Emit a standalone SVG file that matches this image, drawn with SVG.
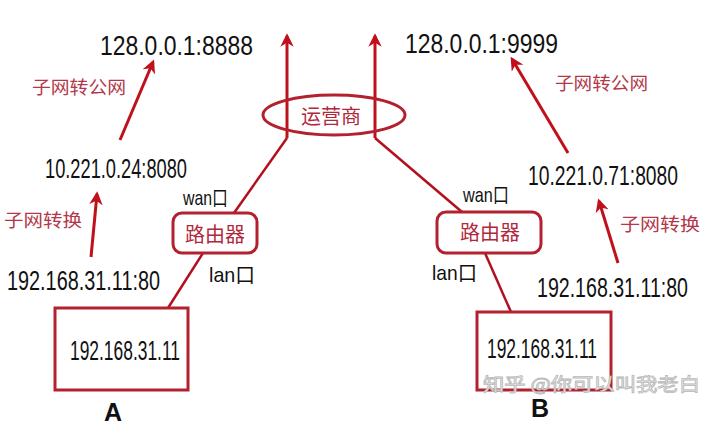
<svg xmlns="http://www.w3.org/2000/svg" width="720" height="421" viewBox="0 0 720 421">
<defs>
<style>
.num{font-family:"Liberation Sans",Arial,sans-serif;font-size:27px;fill:#111}
.port{font-family:"Liberation Sans","Noto Sans CJK SC",sans-serif;font-size:21px;fill:#111}
.red{font-family:"Noto Sans CJK SC",sans-serif;font-size:18px;fill:#b2384a}
.rt{font-family:"Noto Sans CJK SC",sans-serif;font-size:20px;fill:#b0283c}
.box{fill:none;stroke:#b3202e;stroke-width:3}
.link{fill:none;stroke:#b3101e;stroke-width:2.5}
.arr{fill:none;stroke:#c0101c;stroke-width:3;marker-end:url(#ah)}
.lbl{font-family:"Liberation Sans",Arial,sans-serif;font-size:25px;font-weight:bold;fill:#111}
.wm{font-family:"Noto Sans CJK SC",sans-serif;font-size:18px;fill:#f6f6f6;stroke:#b8b8b8;stroke-width:0.8}
</style>
<marker id="ah" viewBox="0 0 10 10" refX="8" refY="5" markerWidth="4.5" markerHeight="4.5" orient="auto" markerUnits="strokeWidth">
<path d="M0,0 L10,5 L0,10 L3,5 z" fill="#c0101c"/>
</marker>
</defs>
<rect width="720" height="421" fill="#fff"/>

<g id="connectors">
<line class="arr" x1="287" y1="138" x2="287" y2="36"/>
<line class="arr" x1="375" y1="138" x2="375" y2="36"/>
<line class="link" x1="287" y1="138" x2="234" y2="213"/>
<line class="link" x1="375" y1="138" x2="462" y2="212"/>
<line class="link" x1="203" y1="253" x2="168" y2="308"/>
<line class="link" x1="485" y1="253" x2="511" y2="312"/>
<line class="arr" x1="120" y1="140" x2="153" y2="62"/>
<line class="arr" x1="91" y1="257" x2="97" y2="194"/>
<line class="arr" x1="568" y1="153" x2="512" y2="59"/>
<line class="arr" x1="618" y1="263" x2="599" y2="201"/>
</g>

<g id="isp">
<ellipse class="box" cx="334" cy="115" rx="71" ry="20"/>
<text class="rt" x="331" y="124" text-anchor="middle" font-size="17">运营商</text>
</g>

<g id="routerA">
<rect class="box" x="173" y="213" width="84" height="40" rx="9"/>
<text class="rt" x="215" y="242" text-anchor="middle">路由器</text>
</g>
<g id="routerB">
<rect class="box" x="437" y="212" width="104" height="41" rx="9"/>
<text class="rt" x="490" y="240" text-anchor="middle">路由器</text>
</g>

<g id="hostA">
<rect class="box" x="55" y="308" width="133" height="82"/>
<text class="num" x="70" y="360" textLength="110" lengthAdjust="spacingAndGlyphs" font-size="26">192.168.31.11</text>
<text class="lbl" x="113" y="421" text-anchor="middle">A</text>
</g>
<g id="hostB">
<rect class="box" x="477" y="312" width="134" height="78"/>
<text class="num" x="487" y="358" textLength="110" lengthAdjust="spacingAndGlyphs" font-size="26">192.168.31.11</text>
<text class="lbl" x="540" y="417" text-anchor="middle">B</text>
</g>

<g id="labelsA">
<text class="num" x="100" y="55" textLength="153" lengthAdjust="spacingAndGlyphs" font-size="28">128.0.0.1:8888</text>
<text class="num" x="45" y="178" textLength="142" lengthAdjust="spacingAndGlyphs">10.221.0.24:8080</text>
<text class="num" x="7" y="290" textLength="153" lengthAdjust="spacingAndGlyphs" font-size="28">192.168.31.11:80</text>
<text class="red" x="32" y="94" textLength="94" lengthAdjust="spacingAndGlyphs">子网转公网</text>
<text class="red" x="4" y="227" textLength="78" lengthAdjust="spacingAndGlyphs">子网转换</text>
<text class="port" x="183" y="205" textLength="45" lengthAdjust="spacingAndGlyphs">wan口</text>
<text class="port" x="209" y="282" textLength="46" lengthAdjust="spacingAndGlyphs">lan口</text>
</g>

<g id="labelsB">
<text class="num" x="405" y="53" textLength="153" lengthAdjust="spacingAndGlyphs" font-size="28">128.0.0.1:9999</text>
<text class="num" x="528" y="185" textLength="150" lengthAdjust="spacingAndGlyphs">10.221.0.71:8080</text>
<text class="num" x="537" y="297" textLength="151" lengthAdjust="spacingAndGlyphs" font-size="28">192.168.31.11:80</text>
<text class="red" x="555" y="90" textLength="93" lengthAdjust="spacingAndGlyphs">子网转公网</text>
<text class="red" x="620" y="231" textLength="80" lengthAdjust="spacingAndGlyphs">子网转换</text>
<text class="port" x="463" y="202" textLength="46" lengthAdjust="spacingAndGlyphs">wan口</text>
<text class="port" x="432" y="280" textLength="45" lengthAdjust="spacingAndGlyphs">lan口</text>
</g>

<g id="watermark">
<text class="wm" x="483" y="391" textLength="217" lengthAdjust="spacingAndGlyphs">知乎 @你可以叫我老白</text>
</g>
</svg>
